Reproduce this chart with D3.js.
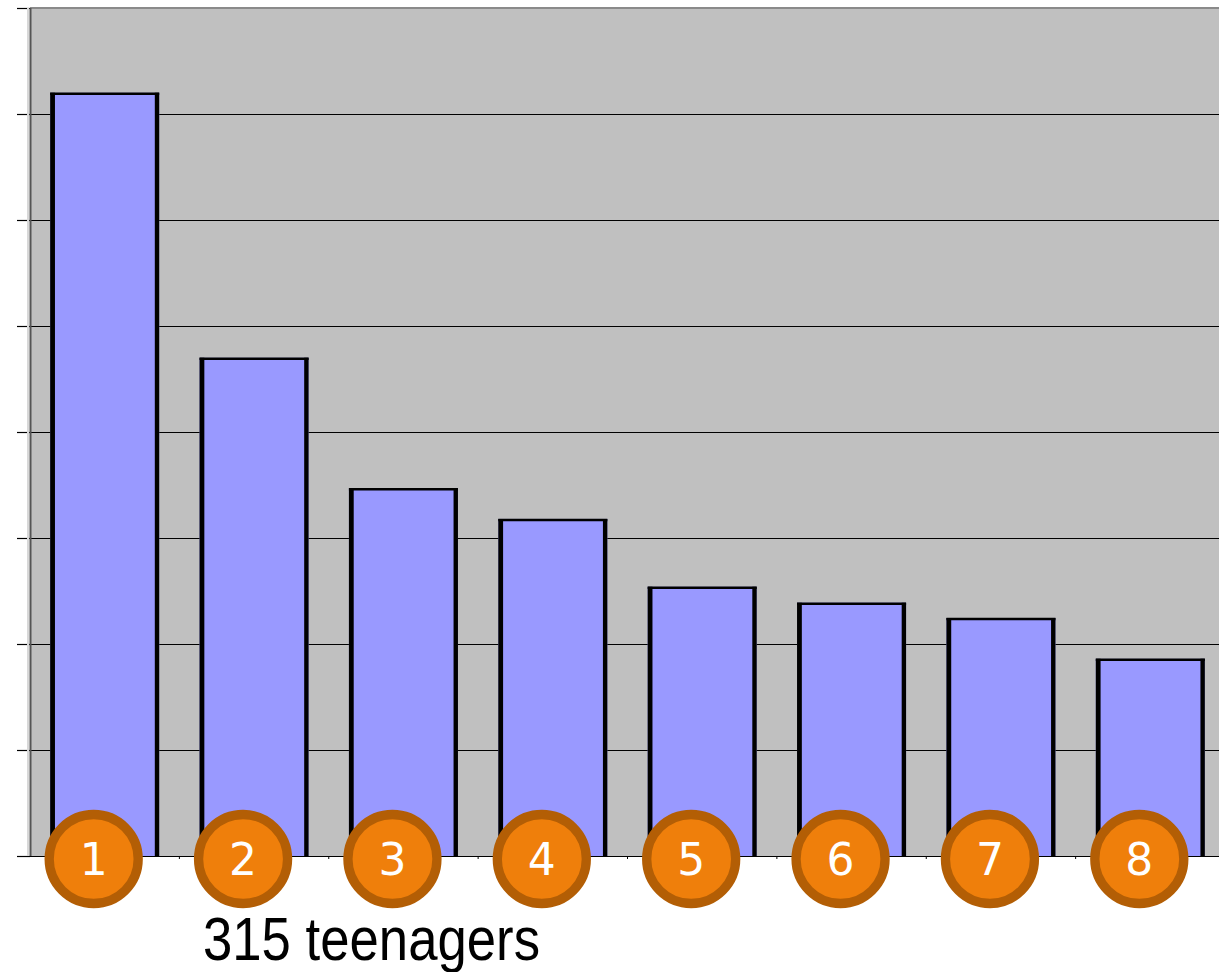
<!DOCTYPE html>
<html>
<head>
<meta charset="utf-8">
<script src="https://cdn.jsdelivr.net/npm/d3@7"></script>
<style>
  body { margin: 0; background: #fff; }
  svg { display: block; }
</style>
</head>
<body>
<svg id="chart" width="1219" height="972"></svg>
<script>
var categories = ["1", "2", "3", "4", "5", "6", "7", "8"];
var values = [7.2, 4.7, 3.47, 3.18, 2.54, 2.39, 2.245, 1.86];
var yTicks = [0, 1, 2, 3, 4, 5, 6, 7, 8];
var caption = "315 teenagers";

var svg = d3.select("#chart");
var plotLeft = 30, plotTop = 8, plotBottom = 856, plotRight = 1225;

var x = d3.scaleBand().domain(categories).range([plotLeft, plotRight]).padding(0);
var y = d3.scaleLinear().domain([0, 8]).range([plotBottom, plotTop]);
var barW = x.bandwidth() * 0.73;

function barLeft(d) { return x(d) + (x.bandwidth() - barW) / 2; }
function barRight(d) { return x(d) + (x.bandwidth() + barW) / 2; }

// plot background
svg.append("rect")
    .attr("x", plotLeft).attr("y", plotTop)
    .attr("width", plotRight - plotLeft).attr("height", plotBottom - plotTop)
    .attr("fill", "#c0c0c0");

// top border
svg.append("line")
    .attr("x1", plotLeft).attr("x2", plotRight)
    .attr("y1", plotTop).attr("y2", plotTop)
    .attr("stroke", "#8a8a8a").attr("stroke-width", 2);

// gridlines
svg.selectAll(".grid")
    .data(yTicks.filter(d => d > 0 && d < 8))
    .enter().append("line")
    .attr("x1", plotLeft).attr("x2", plotRight)
    .attr("y1", d => Math.round(y(d)) + 0.5).attr("y2", d => Math.round(y(d)) + 0.5)
    .attr("stroke", "#000").attr("stroke-width", 1);

// left axis ticks
svg.selectAll(".ytick")
    .data(yTicks)
    .enter().append("line")
    .attr("x1", 17).attr("x2", plotLeft)
    .attr("y1", d => Math.round(y(d)) + 0.5).attr("y2", d => Math.round(y(d)) + 0.5)
    .attr("stroke", "#000").attr("stroke-width", 1.2);

// left axis line
svg.append("line")
    .attr("x1", plotLeft - 2).attr("x2", plotLeft - 2)
    .attr("y1", plotTop).attr("y2", plotBottom)
    .attr("stroke", "#d8d8d8").attr("stroke-width", 2);
svg.append("line")
    .attr("x1", plotLeft + 0.5).attr("x2", plotLeft + 0.5)
    .attr("y1", plotTop).attr("y2", plotBottom)
    .attr("stroke", "#555").attr("stroke-width", 2);

// bars
var bars = svg.selectAll(".bar")
    .data(categories)
    .enter().append("g");

bars.append("rect")
    .attr("x", barLeft)
    .attr("y", (d, i) => y(values[i]))
    .attr("width", barW)
    .attr("height", (d, i) => plotBottom - y(values[i]))
    .attr("fill", "#9999ff");

bars.append("line")
    .attr("x1", barLeft)
    .attr("x2", barRight)
    .attr("y1", (d, i) => y(values[i]) + 1)
    .attr("y2", (d, i) => y(values[i]) + 1)
    .attr("stroke", "#000").attr("stroke-width", 2.5);

bars.append("line")
    .attr("x1", d => barLeft(d) + 2.4)
    .attr("x2", d => barLeft(d) + 2.4)
    .attr("y1", (d, i) => y(values[i]))
    .attr("y2", plotBottom)
    .attr("stroke", "#000").attr("stroke-width", 4.8);

bars.append("line")
    .attr("x1", d => barRight(d) - 2.2)
    .attr("x2", d => barRight(d) - 2.2)
    .attr("y1", (d, i) => y(values[i]))
    .attr("y2", plotBottom)
    .attr("stroke", "#000").attr("stroke-width", 4.4);

// baseline
svg.append("line")
    .attr("x1", 17).attr("x2", 1219)
    .attr("y1", plotBottom + 0.5).attr("y2", plotBottom + 0.5)
    .attr("stroke", "#000").attr("stroke-width", 1.2);

// category boundary ticks
svg.selectAll(".xtick")
    .data(categories.slice(1))
    .enter().append("line")
    .attr("x1", d => x(d)).attr("x2", d => x(d))
    .attr("y1", plotBottom).attr("y2", plotBottom + 3)
    .attr("stroke", "#000").attr("stroke-width", 1);

// numbered badges
var badges = svg.selectAll(".badge")
    .data(categories)
    .enter().append("g")
    .attr("transform", d => "translate(" + (x(d) + x.bandwidth() / 2 - 11) + "," + (plotBottom + 3) + ")");

badges.append("circle")
    .attr("r", 44.5)
    .attr("fill", "#ef7f0b")
    .attr("stroke", "#b35e05")
    .attr("stroke-width", 9.3);

badges.append("text")
    .attr("text-anchor", "middle")
    .attr("dy", "0.36em")
    .attr("fill", "#fff")
    .style("font-family", "'DejaVu Sans', Verdana, sans-serif")
    .style("font-size", "44px")
    .text(d => d);

// caption
svg.append("text")
    .attr("x", 203)
    .attr("y", 960)
    .attr("textLength", 337)
    .attr("lengthAdjust", "spacingAndGlyphs")
    .attr("fill", "#000")
    .style("font-family", "'Liberation Sans Narrow', 'Arial Narrow', 'Liberation Sans', sans-serif")
    .style("font-size", "62px")
    .text(caption);
</script>
</body>
</html>
